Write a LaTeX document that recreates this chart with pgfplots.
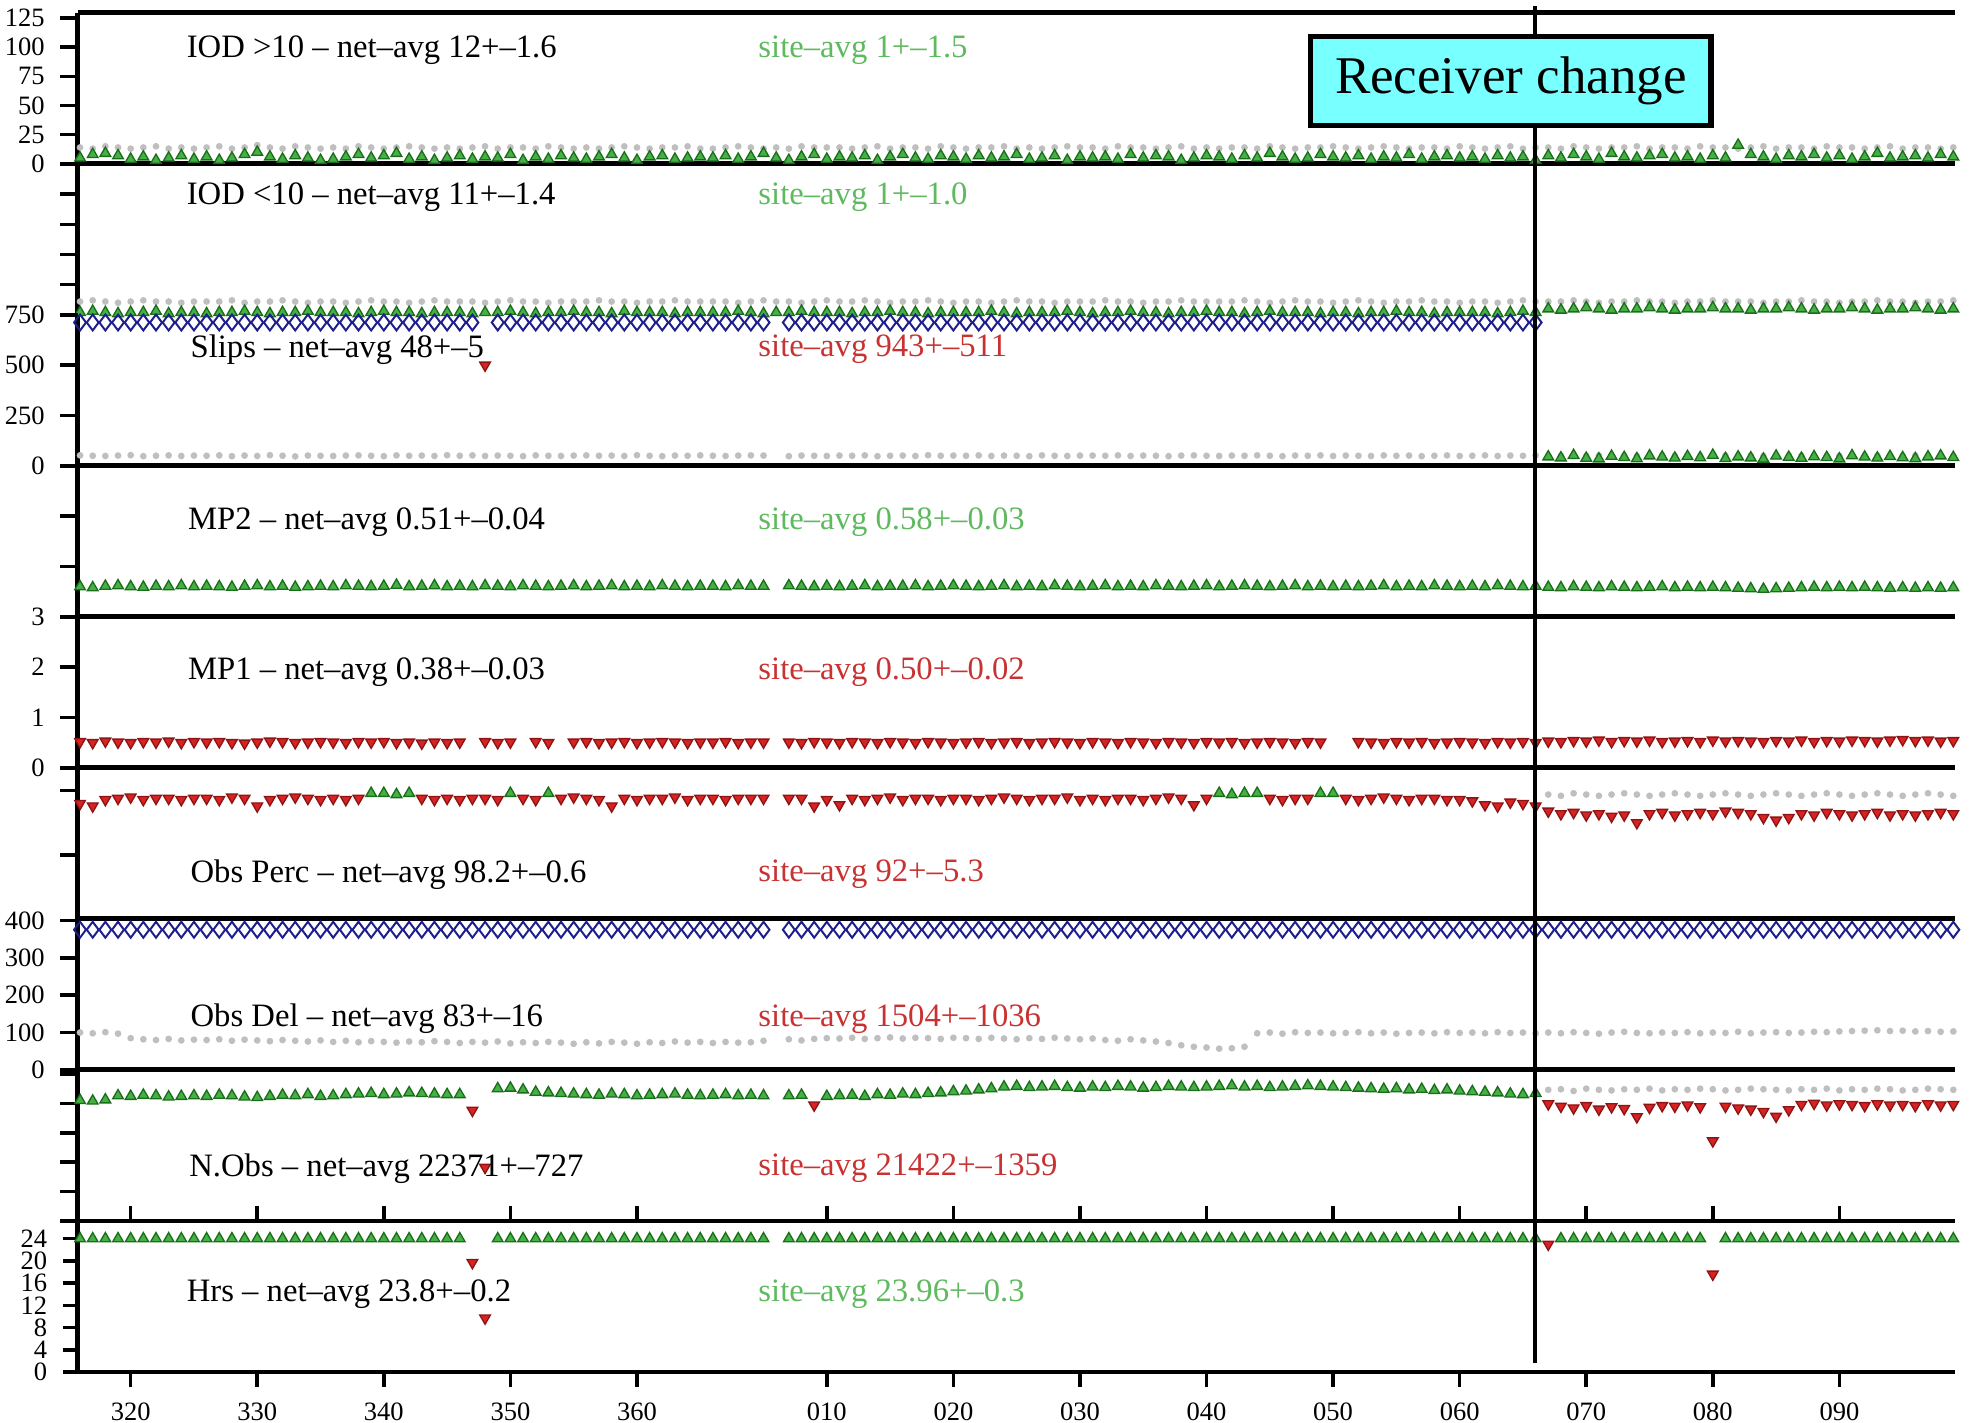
\documentclass[border=0pt]{standalone}
\usepackage{fontspec}
\setmainfont{Liberation Serif}
\usepackage{pgfplots}
\usepackage{pgfplotstable}
\pgfplotsset{compat=1.18}

\definecolor{gfill}{RGB}{70,175,70}
\definecolor{gedge}{RGB}{25,110,25}
\definecolor{rfill}{RGB}{215,35,35}
\definecolor{redge}{RGB}{140,20,20}
\definecolor{navy}{RGB}{30,30,140}
\definecolor{gtext}{RGB}{95,185,95}
\definecolor{rtext}{RGB}{200,50,50}
\definecolor{boxcyan}{RGB}{120,255,255}

% d: day (continuous, 365-day year), i1s/i1n: IOD>10 site/net, i2s/i2n: IOD<10 site/net,
% sl/sln: slips site (712 = off-scale marker)/net, mp2, mp1, op/opn: obs perc site/net,
% od/odn: obs del site (375 = off-scale marker)/net, no/non: N.Obs site/net, hr: hours
\pgfplotstableread{
d i1s i1n i2s i2n sl sln mp2 mp1 op opn od odn no non hr
316 5 14 2 11 712 52 .60 .52 90 nan 375 100 20500 nan 24
317 8 13 3 12 712 50 .58 .50 88 nan 375 98 20400 nan 24
318 9 15 2 11 712 49 .61 .53 93 nan 375 101 20600 nan 24
319 7 14 1 10 712 51 .62 .51 94 nan 375 97 21300 nan 24
320 4 13 2 11 712 53 .60 .50 95 nan 375 85 21200 nan 24
321 6 14 2 12 712 48 .59 .52 93 nan 375 82 21400 nan 24
322 3 15 3 11 712 50 .61 .51 94 nan 375 80 21300 nan 24
323 5 13 1 11 712 52 .60 .53 94 nan 375 83 21100 nan 24
324 7 14 2 10 712 49 .62 .50 93 nan 375 79 21200 nan 24
325 4 13 2 11 712 51 .60 .52 94 nan 375 81 21300 nan 24
326 6 14 1 11 712 50 .61 .51 94 nan 375 80 21200 nan 24
327 3 15 2 11 712 52 .60 .52 93 nan 375 82 21400 nan 24
328 5 13 2 12 712 48 .59 .50 95 nan 375 78 21300 nan 24
329 8 14 3 10 712 51 .61 .49 94 nan 375 81 21100 nan 24
330 10 16 2 11 712 49 .62 .51 88 nan 375 79 21000 nan 24
331 6 14 1 11 712 53 .60 .53 93 nan 375 77 21200 nan 24
332 4 13 2 12 712 50 .61 .52 94 nan 375 80 21400 nan 24
333 7 15 2 11 712 47 .59 .50 95 nan 375 78 21300 nan 24
334 5 14 3 10 712 51 .60 .51 94 nan 375 76 21500 nan 24
335 3 13 2 11 712 50 .61 .52 93 nan 375 79 21200 nan 24
336 4 14 2 11 712 49 .60 .51 94 nan 375 75 21300 nan 24
337 6 13 2 10 712 51 .62 .50 93 nan 375 78 21500 nan 24
338 8 15 1 11 712 52 .61 .52 94 nan 375 74 21600 nan 24
339 5 14 2 12 712 50 .60 .51 98 nan 375 77 21700 nan 24
340 7 13 3 11 712 48 .61 .52 98 nan 375 75 21500 nan 24
341 9 14 2 11 712 52 .63 .50 97 nan 375 73 21600 nan 24
342 4 15 2 10 712 50 .60 .51 98 nan 375 76 21800 nan 24
343 6 14 1 11 712 51 .61 .49 94 nan 375 74 21700 nan 24
344 3 13 2 12 712 49 .62 .51 93 nan 375 77 21600 nan 24
345 5 14 2 11 712 53 .60 .50 94 nan 375 75 21500 nan 24
346 7 13 2 11 712 50 .61 .51 93 nan 375 72 21500 nan 24
347 4 14 1 11 712 52 .60 nan 94 nan 375 75 18800 nan 19.7
348 6 15 2 10 500 49 .62 .52 94 nan 375 73 9100 nan 9.7
349 5 13 2 11 712 51 .61 .50 93 nan 375 76 22500 nan 24
350 8 14 3 12 712 50 .60 .51 98 nan 375 71 22600 nan 24
351 3 14 2 11 712 48 .62 nan 94 nan 375 74 22300 nan 24
352 6 13 1 11 712 52 .61 .52 93 nan 375 72 21900 nan 24
353 4 15 2 10 712 50 .60 .50 98 nan 375 75 21800 nan 24
354 7 14 2 11 712 49 .61 nan 94 nan 375 73 21700 nan 24
355 5 13 3 11 712 51 .62 .51 95 nan 375 70 21600 nan 24
356 4 14 2 11 712 52 .60 .52 94 nan 375 74 21500 nan 24
357 6 13 2 12 712 50 .61 .50 93 nan 375 71 21400 nan 24
358 8 14 1 11 712 51 .62 .51 88 nan 375 75 21600 nan 24
359 5 15 3 11 712 49 .60 .52 94 nan 375 73 21500 nan 24
360 3 14 2 10 712 53 .61 .50 93 nan 375 70 21300 nan 24
361 6 13 2 11 712 50 .60 .51 94 nan 375 74 21400 nan 24
362 7 14 2 11 712 48 .62 .52 94 nan 375 72 21500 nan 24
363 4 14 1 12 712 51 .61 .51 95 nan 375 76 21600 nan 24
364 5 15 2 11 712 50 .60 .50 93 nan 375 73 21400 nan 24
365 6 13 2 11 712 52 .61 .51 94 nan 375 75 21300 nan 24
366 5 13 2 11 712 50 .61 .51 94 nan 375 72 21400 nan 24
367 7 14 2 11 712 49 .60 .52 93 nan 375 75 21500 nan 24
368 4 15 3 10 712 51 .62 .50 94 nan 375 73 21300 nan 24
369 6 14 2 11 712 52 .61 .51 94 nan 375 74 21400 nan 24
370 9 13 1 12 712 51 .61 .51 94 nan 375 78 21300 nan 24
371 5 14 2 11 nan nan nan nan nan nan nan nan nan nan nan
372 3 13 2 11 712 48 .62 .51 94 nan 375 82 21300 nan 24
373 6 15 3 10 712 51 .61 .50 94 nan 375 79 21400 nan 24
374 8 14 2 11 712 50 .60 .52 88 nan 375 83 19700 nan 24
375 4 14 2 12 712 49 .61 .51 93 nan 375 85 21200 nan 24
376 6 14 2 11 712 51 .60 .50 89 nan 375 84 21300 nan 24
377 5 13 1 11 712 50 .61 .52 94 nan 375 86 21400 nan 24
378 7 14 2 12 712 52 .62 .51 93 nan 375 83 21200 nan 24
379 3 15 2 11 712 48 .60 .50 94 nan 375 85 21500 nan 24
380 6 13 3 10 712 50 .61 .52 95 nan 375 87 21400 nan 24
381 8 14 2 11 712 51 .61 .51 93 nan 375 84 21600 nan 24
382 5 14 2 11 712 49 .62 .50 94 nan 375 86 21500 nan 24
383 4 13 1 12 712 53 .60 .52 94 nan 375 85 21700 nan 24
384 7 15 2 11 712 50 .61 .51 93 nan 375 83 21800 nan 24
385 6 14 2 10 712 51 .62 .50 94 nan 375 86 22000 nan 24
386 4 13 2 11 712 50 .61 .51 94 nan 375 85 22100 nan 24
387 7 14 2 11 712 52 .60 .52 93 nan 375 83 22300 nan 24
388 5 14 3 10 712 49 .61 .50 94 nan 375 86 22500 nan 24
389 6 15 2 11 712 51 .62 .51 95 nan 375 84 22800 nan 24
390 8 13 1 12 712 50 .60 .52 94 nan 375 82 22900 nan 24
391 4 14 2 11 712 48 .61 .50 93 nan 375 85 22700 nan 24
392 5 13 2 11 712 52 .60 .51 94 nan 375 83 22800 nan 24
393 7 14 2 10 712 50 .62 .52 94 nan 375 86 22900 nan 24
394 3 15 3 11 712 49 .61 .51 95 nan 375 84 22700 nan 24
395 6 14 2 11 712 51 .60 .50 93 nan 375 82 22600 nan 24
396 5 14 1 11 712 51 .61 .52 94 nan 375 84 22800 nan 24
397 6 13 2 12 712 50 .62 .51 93 nan 375 80 22700 nan 24
398 4 15 2 11 712 52 .60 .50 94 nan 375 78 22900 nan 24
399 8 14 3 11 712 49 .61 .52 94 nan 375 82 22800 nan 24
400 5 14 2 10 712 51 .60 .51 93 nan 375 79 22600 nan 24
401 7 13 2 11 712 50 .62 .50 94 nan 375 76 22700 nan 24
402 6 14 1 11 712 48 .61 .52 95 nan 375 72 22900 nan 24
403 3 15 2 12 712 51 .60 .51 94 nan 375 66 22800 nan 24
404 5 13 2 11 712 52 .61 .50 89 nan 375 62 22700 nan 24
405 7 14 3 11 712 50 .62 .52 94 nan 375 60 22800 nan 24
406 6 13 2 11 712 49 .60 .51 98 nan 375 57 22900 nan 24
407 4 14 2 11 712 51 .61 .52 97 nan 375 58 23000 nan 24
408 7 14 1 12 712 50 .62 .50 98 nan 375 62 22800 nan 24
409 5 13 2 11 712 52 .61 .51 98 nan 375 98 22900 nan 24
410 9 15 3 10 712 50 .60 .52 94 nan 375 100 22700 nan 24
411 6 14 2 11 712 48 .61 .51 93 nan 375 97 22800 nan 24
412 4 13 2 12 712 51 .62 .50 94 nan 375 101 22900 nan 24
413 5 14 2 11 712 50 .60 .52 94 nan 375 99 23000 nan 24
414 8 14 1 11 712 52 .61 .51 98 nan 375 100 22900 nan 24
415 6 15 2 10 712 49 .60 nan 98 nan 375 98 22800 nan 24
416 5 14 2 11 712 51 .61 nan 94 nan 375 99 22700 nan 24
417 7 13 1 12 712 50 .60 .52 93 nan 375 101 22600 nan 24
418 4 14 2 11 712 49 .61 .51 94 nan 375 98 22500 nan 24
419 6 15 2 10 712 52 .62 .50 95 nan 375 100 22400 nan 24
420 5 14 3 11 712 50 .60 .52 94 nan 375 97 22500 nan 24
421 8 13 2 11 712 51 .61 .51 93 nan 375 99 22300 nan 24
422 4 14 2 12 712 48 .60 .52 94 nan 375 100 22400 nan 24
423 6 14 1 11 712 50 .62 .50 94 nan 375 98 22200 nan 24
424 7 13 2 11 712 52 .61 .51 93 nan 375 101 22300 nan 24
425 5 15 2 10 712 49 .60 .52 93 nan 375 99 22100 nan 24
426 6 14 2 11 712 50 .61 .51 92 nan 375 100 22000 nan 24
427 4 13 2 11 712 52 .60 .50 89 nan 375 98 21900 nan 24
428 7 14 1 10 712 49 .62 .52 88 nan 375 101 21800 nan 24
429 5 15 2 11 712 51 .61 .51 91 nan 375 99 21600 nan 24
430 6 13 3 12 712 50 .60 .52 90 nan 375 100 21500 nan 24
431 3 14 2 11 712 52 .61 .50 88 nan 375 98 21700 nan 24
432 7 14 5 11 45 50 .59 .53 84 97 375 100 19900 22300 23
433 5 13 4 11 40 51 .58 .52 82 96 375 98 19500 22400 24
434 8 15 5 12 52 49 .60 .54 83 98 375 101 19200 22100 24
435 6 14 6 11 38 50 .59 .53 81 97 375 99 19600 22500 24
436 4 13 5 10 35 52 .58 .55 82 96 375 97 19000 22300 24
437 9 14 4 11 48 50 .60 .52 80 97 375 100 19400 22200 24
438 6 14 5 11 42 51 .59 .54 81 98 375 102 19100 22400 24
439 5 15 5 12 36 49 .58 .53 75 97 375 99 17700 22300 24
440 7 13 6 11 50 50 .59 .55 82 96 375 98 19300 22500 24
441 8 14 5 11 44 52 .60 .52 83 97 375 100 19600 22200 24
442 5 14 4 10 39 50 .58 .53 81 98 375 99 19500 22400 24
443 6 13 5 11 47 51 .59 .54 82 97 375 101 19700 22300 24
444 4 15 5 11 41 49 .58 .52 83 96 375 98 19400 22500 24
445 7 14 6 12 53 50 .59 .55 82 97 375 100 13600 22400 17.6
446 5 14 5 11 37 52 .58 .53 84 98 375 99 19500 22200 24
447 16 13 5 11 45 50 .57 .54 83 97 375 102 19200 22300 24
448 8 14 4 11 40 51 .56 .53 82 96 375 98 19000 22500 24
449 6 15 5 10 34 49 .55 .52 79 97 375 100 18600 22400 24
450 4 13 5 11 49 50 .56 .54 77 98 375 101 17800 22300 24
451 7 14 6 11 43 52 .57 .53 79 97 375 99 18900 22200 24
452 6 14 5 12 38 50 .58 .55 82 96 375 100 19800 22400 24
453 8 13 4 11 46 51 .59 .52 81 97 375 102 20000 22300 24
454 5 15 5 11 42 49 .58 .54 83 98 375 101 19700 22500 24
455 7 14 5 10 35 50 .59 .53 82 97 375 103 19900 22200 24
456 4 14 6 11 51 52 .58 .55 81 96 375 104 19800 22400 24
457 6 13 5 11 44 50 .59 .54 82 97 375 105 19600 22300 24
458 9 14 4 12 39 51 .58 .53 83 98 375 106 19900 22500 24
459 5 15 5 11 47 49 .57 .55 81 97 375 104 19700 22400 24
460 6 13 5 11 41 50 .58 .56 82 96 375 105 19800 22200 24
461 7 14 6 10 36 52 .57 .54 81 97 375 103 19600 22300 24
462 5 14 5 11 45 50 .58 .55 82 98 375 104 19900 22500 24
463 8 13 4 11 50 51 .57 .53 83 97 375 102 19700 22400 24
464 6 14 5 12 42 49 .58 .54 82 96 375 103 19800 22300 24
}\data

\pgfplotsset{
  panel/.style={
    scale only axis, width=149.4mm, height=12.02mm,
    xmin=315.83, xmax=464.13,
    anchor=south west, clip=false,
    axis y line=left, axis x line=bottom,
    axis line style={line width=1.1pt,-},
    every outer x axis line/.append style={-},
    every outer y axis line/.append style={-},
    xtick=\empty,
    tick align=outside,
    major tick length=1.4mm,
    every tick/.style={black, line width=0.8pt},
    tick label style={font=\fontsize{6}{7}\selectfont},
    /pgf/number format/assume math mode=true,
    scaled y ticks=false,
    ytick pos=left,
  },
  gmark/.style={only marks, mark=triangle*, mark size=1.4pt,
    mark options={fill=gfill, draw=gedge, line width=0.3pt}},
  rmark/.style={only marks, mark=triangle*, mark size=1.4pt,
    mark options={rotate=180, fill=rfill, draw=redge, line width=0.3pt}},
  dmark/.style={only marks, mark=diamond, mark size=1.8pt,
    mark options={draw=navy, fill=white, line width=0.45pt}},
  nmark/.style={only marks, mark=*, mark size=0.55pt,
    mark options={fill=gray!50, draw=gray!50}},
}

\newcommand\lab{\fontsize{7.4}{9}\selectfont}

\begin{document}
\begin{tikzpicture}
\useasboundingbox (0,0) rectangle (156.8mm,113.2mm);

% P1 IOD>10
\begin{axis}[panel, at={(6.2mm,100.16mm)}, ymin=0, ymax=129.5,
  ytick={0,25,50,75,100,125}, axis x line=box]
\addplot[nmark] table[x=d,y=i1n]{\data};
\addplot[gmark] table[x=d,y=i1s]{\data};
\end{axis}

% P2 IOD<10
\begin{axis}[panel, at={(6.2mm,88.14mm)}, ymin=0, ymax=125.2,
  ytick={25,50,75,100}, yticklabels={}, axis x line=none]
\addplot[nmark] table[x=d,y=i2n]{\data};
\addplot[gmark] table[x=d,y=i2s]{\data};
\end{axis}

% P3 Slips
\begin{axis}[panel, at={(6.2mm,76.12mm)}, ymin=0, ymax=750,
  ytick={0,250,500,750}]
\addplot[nmark] table[x=d,y=sln]{\data};
\addplot[dmark, restrict y to domain=700:800] table[x=d,y=sl]{\data};
\addplot[rmark, restrict y to domain=100:699] table[x=d,y=sl]{\data};
\addplot[gmark, restrict y to domain=0:99] table[x=d,y=sl]{\data};
\end{axis}

% P4 MP2
\begin{axis}[panel, at={(6.2mm,64.1mm)}, ymin=0, ymax=3,
  ytick={1,2}, yticklabels={}]
\addplot[gmark] table[x=d,y=mp2]{\data};
\end{axis}

% P5 MP1
\begin{axis}[panel, at={(6.2mm,52.08mm)}, ymin=0, ymax=3,
  ytick={0,1,2,3}]
\addplot[rmark] table[x=d,y=mp1]{\data};
\end{axis}

% P6 Obs Perc
\begin{axis}[panel, at={(6.2mm,40.06mm)}, ymin=0, ymax=117.8,
  ytick={50,100}, yticklabels={}]
\addplot[nmark] table[x=d,y=opn]{\data};
\addplot[rmark, restrict y to domain=0:96.5] table[x=d,y=op]{\data};
\addplot[gmark, restrict y to domain=96.5:200] table[x=d,y=op]{\data};
\end{axis}

% P7 Obs Del
\begin{axis}[panel, at={(6.2mm,28.04mm)}, ymin=0, ymax=404,
  ytick={0,100,200,300,400}]
\addplot[nmark] table[x=d,y=odn]{\data};
\addplot[dmark] table[x=d,y=od]{\data};
\end{axis}

% P8 N.Obs
\begin{axis}[panel, at={(6.2mm,16.02mm)}, ymin=0, ymax=25684,
  ytick={0,5000,10000,15000,20000,25000}, yticklabels={}]
\addplot[nmark] table[x=d,y=non]{\data};
\addplot[gmark, restrict y to domain=20300:30000] table[x=d,y=no]{\data};
\addplot[rmark, restrict y to domain=0:20300] table[x=d,y=no]{\data};
\end{axis}

% P9 Hrs
\begin{axis}[panel, at={(6.2mm,4.0mm)}, ymin=0, ymax=27.2,
  ytick={0,4,8,12,16,20,24}, axis x line=box,
  xtick={320,330,340,350,360,375,385,395,405,415,425,435,445,455},
  xticklabels={320,330,340,350,360,010,020,030,040,050,060,070,080,090},
  xtick pos=both, xticklabel pos=lower,
  major tick length=1.2mm]
\addplot[gmark, restrict y to domain=23.5:30] table[x=d,y=hr]{\data};
\addplot[rmark, restrict y to domain=0:23.5] table[x=d,y=hr]{\data};
\end{axis}

% labels
\begin{scope}[every node/.style={anchor=west, inner sep=0pt, font=\lab}]
\node at (14.8mm,109.2mm) {IOD >10 – net–avg 12+–1.6};
\node[text=gtext] at (60.3mm,109.2mm) {site–avg 1+–1.5};
\node at (14.8mm,97.5mm) {IOD <10 – net–avg 11+–1.4};
\node[text=gtext] at (60.3mm,97.5mm) {site–avg 1+–1.0};
\node at (15.1mm,85.4mm) {Slips – net–avg 48+–5};
\node[text=rtext] at (60.3mm,85.4mm) {site–avg 943+–511};
\node at (14.9mm,71.6mm) {MP2 – net–avg 0.51+–0.04};
\node[text=gtext] at (60.3mm,71.6mm) {site–avg 0.58+–0.03};
\node at (14.9mm,59.7mm) {MP1 – net–avg 0.38+–0.03};
\node[text=rtext] at (60.3mm,59.7mm) {site–avg 0.50+–0.02};
\node at (15.1mm,43.6mm) {Obs Perc – net–avg 98.2+–0.6};
\node[text=rtext] at (60.3mm,43.6mm) {site–avg 92+–5.3};
\node at (15.1mm,32.1mm) {Obs Del – net–avg 83+–16};
\node[text=rtext] at (60.3mm,32.1mm) {site–avg 1504+–1036};
\node at (15.0mm,20.2mm) {N.Obs – net–avg 22371+–727};
\node[text=rtext] at (60.3mm,20.2mm) {site–avg 21422+–1359};
\node at (14.8mm,10.2mm) {Hrs – net–avg 23.8+–0.2};
\node[text=gtext] at (60.3mm,10.2mm) {site–avg 23.96+–0.3};
\end{scope}

% receiver change marker
\draw[line width=0.9pt] (122.2mm,112.7mm) -- (122.2mm,4.7mm);
\node[draw, line width=1.3pt, fill=boxcyan, minimum width=31.9mm,
  minimum height=7.1mm, inner sep=0pt, font=\fontsize{12}{14}\selectfont]
  at (120.25mm,106.75mm) {Receiver change};
\end{tikzpicture}
\end{document}
